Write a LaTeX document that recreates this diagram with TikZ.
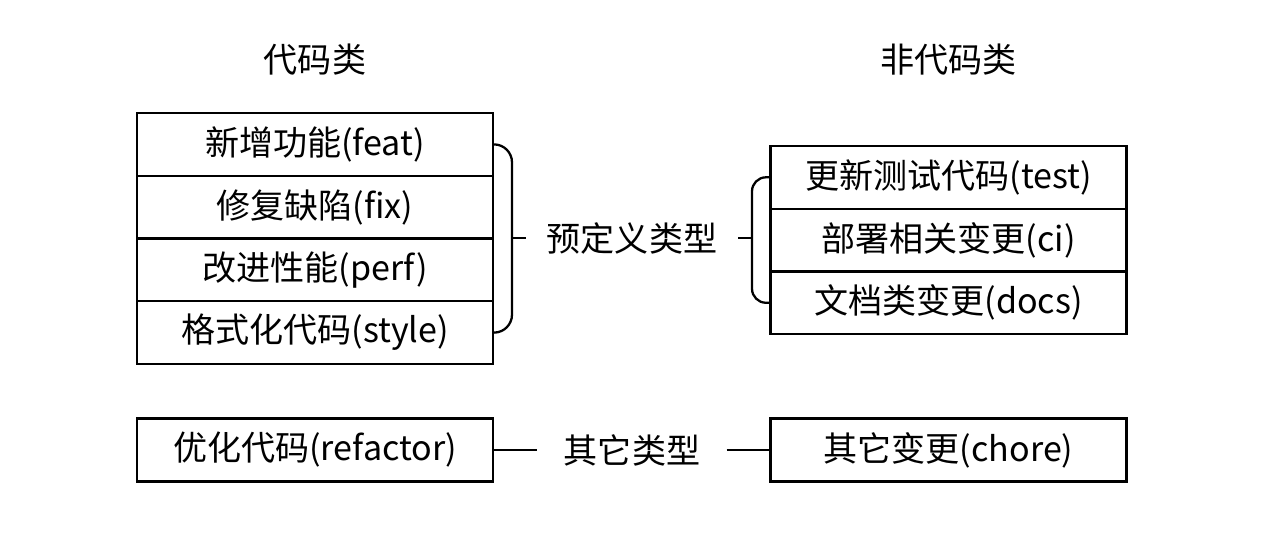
\documentclass[tikz,border=0pt]{standalone}
\usepackage{fontspec}
\setmainfont{Noto Sans CJK SC}
\usetikzlibrary{positioning}
\tikzstyle{block} = [rectangle, draw, line width=1.3pt, align=center, minimum height=1.255cm, minimum width=7.12cm, inner sep=0pt]
\tikzstyle{title} = [inner sep=0pt]
\tikzstyle{link} = [line width=1.3pt]

\begin{document}
\begin{tikzpicture}[x=0.02cm, y=-0.02cm, node distance=1.255cm, font=\fontsize{19.4pt}{23pt}\selectfont]
\useasboundingbox (0,0) rectangle (1262,534);
\node[title] (code) at (315,60) {代码类};
\node[title] (noncode) at (948.5,60) {非代码类};
\node[block] (feat) at (315,144.4) {新增功能(feat)};
\node[block, below of=feat] (fix) {修复缺陷(fix)};
\node[block, below of=fix] (perf) {改进性能(perf)};
\node[block, below of=perf] (style) {格式化代码(style)};
\node[block] (test) at (948.5,177.3) {更新测试代码(test)};
\node[block, below of=test] (ci) {部署相关变更(ci)};
\node[block, below of=ci] (docs) {文档类变更(docs)};
\node[block] (refactor) at (315,450) {优化代码(refactor)};
\node[block] (chore) at (948.5,450) {其它变更(chore)};
\node[inner xsep=0.4cm] (pre) at (632,238) {预定义类型};
\node[inner xsep=0.52cm] (other) at (632,450) {其它类型};
% braces
\coordinate (lb) at (512,238);
\coordinate (rb) at (752,238);
\draw[link, rounded corners=0.36cm] (feat.east) -| (lb) |- (style.east);
\draw[link, rounded corners=0.28cm] (test.west) -| (rb) |- (docs.west);
\draw[link] (lb) -- (pre.west);
\draw[link] (rb) -- (pre.east);
\draw[link] (refactor) -- (other);
\draw[link] (other) -- (chore);
\end{tikzpicture}
\end{document}
